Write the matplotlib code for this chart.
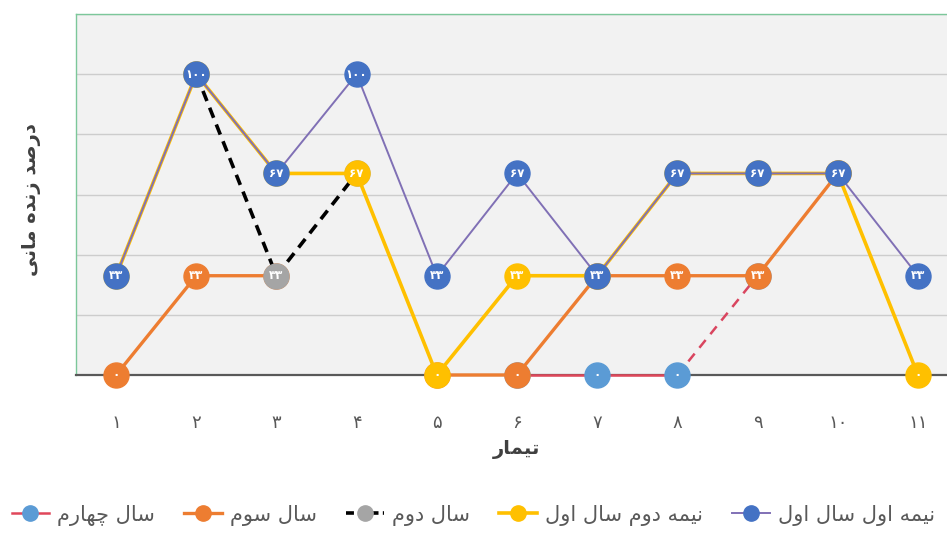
import numpy as np
import matplotlib
matplotlib.use("Agg")
import matplotlib.pyplot as plt
from matplotlib.lines import Line2D

# ---------------- data ----------------
categories = list(range(1, 12))
nan = np.nan
first_half_y1 = [33, 100, 67, 100, 33, 67, 33, 67, 67, 67, 33]      # نیمه اول سال اول
second_half_y1 = [33, 100, 67, 67, 0, 33, 33, 67, 67, 67, 0]        # نیمه دوم سال اول
year2 = [nan, 100, 33, 67, nan, nan, nan, nan, nan, nan, nan]       # سال دوم
year3 = [0, 33, 33, nan, 0, 0, 33, 33, 33, 67, nan]                 # سال سوم
year4 = [nan, nan, nan, nan, nan, 0, 0, 0, 33, nan, nan]            # سال چهارم

series_names = ["نیمه اول سال اول", "نیمه دوم سال اول", "سال دوم", "سال سوم", "سال چهارم"]
x_title = "تیمار"
y_title = "درصد زنده مانی"

# ---------------- Persian shaping helpers ----------------
FORMS = {  # isolated, final, initial, medial
    'ا': ('\uFE8D', '\uFE8E', None, None),
    'د': ('\uFEA9', '\uFEAA', None, None),
    'ر': ('\uFEAD', '\uFEAE', None, None),
    'ز': ('\uFEAF', '\uFEB0', None, None),
    'و': ('\uFEED', '\uFEEE', None, None),
    'ت': ('\uFE95', '\uFE96', '\uFE97', '\uFE98'),
    'س': ('\uFEB1', '\uFEB2', '\uFEB3', '\uFEB4'),
    'ص': ('\uFEB9', '\uFEBA', '\uFEBB', '\uFEBC'),
    'ل': ('\uFEDD', '\uFEDE', '\uFEDF', '\uFEE0'),
    'م': ('\uFEE1', '\uFEE2', '\uFEE3', '\uFEE4'),
    'ن': ('\uFEE5', '\uFEE6', '\uFEE7', '\uFEE8'),
    'ه': ('\uFEE9', '\uFEEA', '\uFEEB', '\uFEEC'),
    'ی': ('\uFBFC', '\uFBFD', '\uFBFE', '\uFBFF'),
    'چ': ('\uFB7A', '\uFB7B', '\uFB7C', '\uFB7D'),
}


def dual(c):
    return c in FORMS and FORMS[c][2] is not None


def shape(text):
    out = []
    n = len(text)
    for i, c in enumerate(text):
        if c not in FORMS:
            out.append(c)
            continue
        prev = text[i - 1] if i > 0 else ''
        nxt = text[i + 1] if i < n - 1 else ''
        jp = dual(prev)
        jn = dual(c) and nxt in FORMS
        f = FORMS[c]
        if jp and jn:
            out.append(f[3])
        elif jp:
            out.append(f[1])
        elif jn:
            out.append(f[2])
        else:
            out.append(f[0])
    return ''.join(out)[::-1]


PDIG = str.maketrans('0123456789', '۰۱۲۳۴۵۶۷۸۹')


def pnum(v):
    return str(int(v)).translate(PDIG)


# ---------------- figure ----------------
plt.rcParams['font.family'] = ['DejaVu Sans']
W, H = 947, 535
fig = plt.figure(figsize=(W / 100, H / 100), dpi=100)
ax = fig.add_axes([76 / W, (H - 375) / H, (958 - 76) / W, (375 - 14) / H])
ax.set_facecolor('#F2F2F2')
ax.set_xlim(0.5, 11.5)
ax.set_ylim(0, 120)
ax.set_yticks(np.arange(0, 121, 20))
ax.yaxis.grid(True, color='#CDCDCD', lw=1.0, zorder=0)
ax.set_axisbelow(True)
ax.tick_params(axis='y', left=False, labelleft=False)
ax.set_xticks(categories)
ax.set_xticklabels([pnum(c) for c in categories], fontsize=13, color='#595959')
ax.tick_params(axis='x', length=0, pad=28)
for s in ['left', 'top', 'right']:
    ax.spines[s].set_color('#7CC79A')
    ax.spines[s].set_linewidth(1.0)
ax.spines['bottom'].set_color('#595959')
ax.spines['bottom'].set_linewidth(1.6)

MS = 18
lab_kw = dict(ha='center', va='center', color='white', fontsize=8.5, fontweight='bold', clip_on=False)


def draw_series(vals, mcolor, lcolor, lw, z, ls='-', show_line=True):
    v = np.array(vals, dtype=float)
    if show_line:
        ax.plot(categories, v, color=lcolor, lw=lw, ls=ls, zorder=z, solid_capstyle='round', clip_on=False)
    ax.plot(categories, v, ls='none', marker='o', ms=MS, mfc=mcolor, mec=mcolor, zorder=z + 0.2,
            clip_on=False)
    for x, y in zip(categories, v):
        if not np.isnan(y):
            ax.text(x, y, pnum(y), zorder=z + 0.3, **lab_kw)


# year 4: solid part then dashed last segment
y4 = np.array(year4, dtype=float)
ax.plot(categories[5:8], y4[5:8], color='#E0475A', lw=1.8, zorder=3, clip_on=False)
ax.plot(categories[7:9], y4[7:9], color='#D9455F', lw=1.8, ls=(0, (4, 3)), zorder=3)
draw_series(year4, '#5B9BD5', '#E0475A', 1.6, 3, show_line=False)
draw_series(year3, '#ED7D31', '#ED7D31', 2.4, 4)
draw_series(year2, '#A5A5A5', '#000000', 2.6, 5, ls=(0, (3, 2)))
draw_series(second_half_y1, '#FFC000', '#FFC000', 2.6, 6)
draw_series(first_half_y1, '#4472C4', '#8070B5', 1.4, 7)

ax.set_xlabel(shape(x_title), fontsize=14, fontweight='bold', color='#404040', labelpad=6)
fig.text(32 / W, (H - 200) / H, shape(y_title), rotation=90, ha='center', va='center',
         fontsize=14, fontweight='bold', color='#404040')

handles = [
    Line2D([], [], color='#E0475A', lw=1.8, marker='o', ms=11, mfc='#5B9BD5', mec='#5B9BD5'),
    Line2D([], [], color='#ED7D31', lw=2.4, marker='o', ms=11, mfc='#ED7D31', mec='#ED7D31'),
    Line2D([], [], color='#000000', lw=2.6, ls=(0, (2.2, 1.2)), marker='o', ms=11, mfc='#A5A5A5', mec='#A5A5A5'),
    Line2D([], [], color='#FFC000', lw=2.6, marker='o', ms=11, mfc='#FFC000', mec='#FFC000'),
    Line2D([], [], color='#8070B5', lw=1.4, marker='o', ms=11, mfc='#4472C4', mec='#4472C4'),
]
labels = [shape(n) for n in series_names[::-1]]
fig.legend(handles, labels, loc='center', bbox_to_anchor=(0.5, (H - 515) / H), ncol=5,
           frameon=False, handlelength=1.8, columnspacing=1.4, handletextpad=0.4,
           prop={'size': 15}, labelcolor='#595959')

fig.savefig('out.png', dpi=100)
